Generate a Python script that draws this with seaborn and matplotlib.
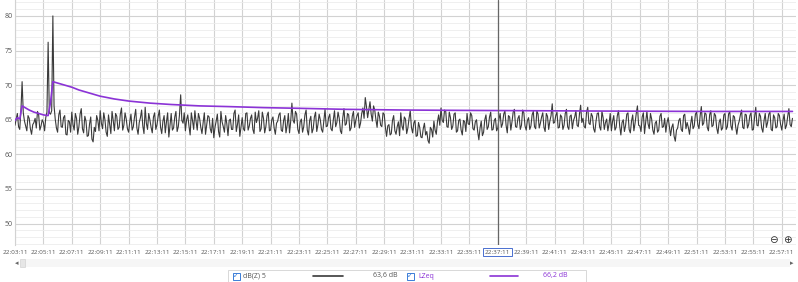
import numpy as np
import pandas as pd
import matplotlib
matplotlib.use("Agg")
import matplotlib.pyplot as plt
import matplotlib.dates as mdates
from matplotlib.lines import Line2D
from matplotlib.patches import Rectangle
import seaborn as sns

# ---------------- data ----------------
start_time = "2024-01-01 22:03:11"
sample_interval_s = 5

# dB(Z) 5 level read at every full 10 s (rows = 2-minute blocks)
dbz_at_10s = [
    64.2, 65.9, 63.6, 70.5, 64.8, 63.4, 65.2, 62.9, 64.6, 63.8, 65.7, 64.1,
    64.6, 65.3, 76.2, 65.8, 80.0, 65.1, 63.2, 66.4, 63.9, 65.6, 62.8, 64.7,
    66.1, 63.5, 65.2, 64.0, 66.6, 63.1, 64.8, 62.7, 65.4, 61.8, 63.3, 64.9,
    66.3, 63.7, 65.0, 62.6, 64.4, 66.2, 63.4, 65.5, 63.9, 66.7, 64.2, 65.1,
    63.2, 65.8, 64.0, 66.5, 62.9, 65.3, 64.1, 66.8, 63.6, 65.0, 63.1, 66.0,
    64.3, 66.4, 63.0, 65.6, 64.7, 62.5, 65.9, 63.8, 66.2, 64.0, 68.6, 64.5,
    63.4, 65.7, 62.8, 64.9, 66.3, 63.5, 65.2, 63.0, 66.0, 64.2, 65.4, 63.1,
    62.4, 64.8, 63.3, 66.2, 64.0, 65.6, 62.7, 65.1, 63.6, 66.4, 64.3, 62.6,
    65.3, 63.4, 66.0, 64.1, 65.7, 63.0, 64.6, 66.3, 63.7, 65.2, 64.0, 66.1,
    63.5, 65.4, 62.9, 64.8, 66.0, 63.3, 65.6, 64.2, 63.1, 67.4, 64.5, 65.8,
    63.0, 65.1, 64.0, 66.4, 62.8, 65.5, 63.7, 66.1, 64.3, 65.0, 63.2, 66.5,
    64.1, 65.8, 63.4, 66.3, 64.6, 65.2, 63.0, 66.6, 64.4, 65.7, 63.8, 66.2,
    64.9, 66.0, 64.5, 66.7, 68.2, 65.3, 67.6, 64.8, 66.4, 63.9, 65.5, 64.0,
    65.8, 62.6, 64.3, 63.0, 65.6, 62.9, 64.7, 66.0, 63.5, 65.1, 63.8, 66.3,
    63.1, 64.9, 62.7, 63.9, 62.4, 64.5, 63.3, 61.6, 63.6, 64.8, 62.9, 65.7,
    66.7, 64.6, 66.2, 63.9, 65.3, 64.1, 66.0, 63.4, 65.1, 62.8, 64.7, 65.9,
    64.3, 65.6, 63.5, 65.0, 62.1, 64.8, 63.2, 65.7, 64.0, 66.1, 63.6, 65.2,
    63.8, 65.9, 64.4, 66.3, 63.1, 65.4, 64.7, 66.5, 63.9, 65.6, 64.2, 66.0,
    63.5, 65.3, 64.1, 66.2, 63.7, 65.8, 64.5, 66.0, 63.3, 65.5, 64.8, 67.3,
    64.6, 66.1, 63.9, 65.4, 64.2, 66.5, 63.6, 65.7, 64.9, 66.3, 64.0, 67.1,
    65.2, 63.8, 66.8, 64.3, 65.5, 63.2, 65.9, 64.0, 66.2, 63.6, 65.1, 64.4,
    63.4, 65.6, 63.9, 66.3, 62.8, 65.0, 64.2, 66.0, 63.1, 65.7, 64.5, 67.0,
    64.1, 65.4, 63.0, 66.2, 63.7, 65.1, 62.9, 64.8, 63.5, 65.9, 64.0, 63.2,
    65.3, 62.7, 64.4, 61.9, 63.8, 65.2, 63.3, 65.8, 64.6, 62.9, 65.5, 64.1,
    66.1, 63.7, 66.9, 64.5, 65.8, 63.4, 66.3, 64.2, 65.6, 63.0, 65.1, 63.8,
    65.9, 64.0, 66.2, 63.5, 65.4, 62.9, 64.8, 66.4, 63.7, 65.7, 64.3, 66.0,
    63.6, 66.8, 64.1, 65.5, 63.2, 65.9, 64.6, 66.1, 63.4, 65.3, 64.0, 65.6,
    63.5, 65.8, 64.2, 66.6, 64.0,
]
# dB(Z) 5 level read 5 s after each of the points above
dbz_at_10s_plus5 = [
    65.1, 64.0, 66.3, 66.0, 64.1, 65.6, 63.7, 64.3, 65.2, 66.2, 63.5, 65.0,
    63.4, 66.1, 66.0, 66.3, 67.0, 63.8, 65.7, 64.0, 65.3, 62.9, 64.9, 63.2,
    64.3, 65.9, 62.9, 65.8, 63.7, 65.5, 62.6, 64.4, 62.2, 63.9, 65.6, 63.4,
    64.5, 66.0, 63.2, 65.7, 63.0, 64.9, 65.9, 63.6, 65.8, 63.5, 66.0, 63.7,
    64.7, 63.5, 65.4, 63.8, 64.6, 66.4, 63.0, 64.5, 65.9, 63.9, 65.4, 63.6,
    65.5, 63.9, 64.8, 63.1, 66.0, 64.2, 63.5, 65.4, 63.3, 65.7, 64.9, 66.0,
    65.0, 64.1, 66.0, 63.6, 64.8, 65.9, 63.9, 64.6, 62.9, 65.6, 63.7, 65.2,
    63.9, 65.8, 62.5, 64.7, 63.2, 64.4, 64.9, 63.6, 65.9, 63.3, 65.7, 64.0,
    63.7, 65.9, 63.5, 65.2, 63.6, 66.1, 65.2, 63.3, 66.1, 63.1, 65.6, 63.4,
    65.0, 63.8, 64.5, 65.7, 63.5, 64.9, 63.1, 65.9, 64.8, 64.9, 66.2, 63.6,
    64.7, 63.2, 65.7, 63.5, 64.9, 63.1, 65.4, 63.3, 65.8, 63.6, 64.8, 64.0,
    65.3, 63.7, 65.0, 64.0, 66.1, 63.4, 65.3, 64.2, 65.9, 63.4, 65.5, 63.9,
    65.6, 63.8, 65.9, 65.2, 66.9, 66.5, 65.8, 67.0, 65.0, 66.1, 64.2, 66.0,
    63.9, 64.1, 62.8, 64.9, 63.4, 64.0, 62.7, 64.1, 65.4, 63.0, 65.2, 63.9,
    64.5, 62.6, 64.6, 62.5, 63.7, 62.8, 62.0, 63.9, 62.5, 63.5, 64.7, 64.2,
    64.9, 66.4, 64.0, 66.1, 63.6, 65.8, 63.2, 64.9, 63.5, 64.9, 63.3, 64.4,
    66.0, 63.7, 64.7, 63.3, 63.8, 62.7, 65.0, 63.6, 65.4, 63.5, 64.9, 63.4,
    65.1, 63.9, 65.8, 64.2, 65.6, 63.5, 66.1, 64.0, 65.2, 63.6, 66.4, 64.1,
    64.9, 63.6, 65.7, 64.0, 66.3, 63.8, 65.4, 63.9, 65.9, 63.6, 65.6, 64.5,
    65.6, 63.8, 65.7, 63.6, 65.9, 64.0, 65.5, 63.7, 65.4, 64.2, 65.8, 64.6,
    64.0, 66.1, 64.5, 65.9, 63.7, 64.8, 66.0, 63.5, 65.3, 64.6, 63.4, 65.9,
    64.8, 63.5, 65.6, 64.1, 64.6, 63.3, 65.8, 63.6, 64.8, 63.4, 65.9, 64.2,
    63.3, 66.0, 64.7, 64.4, 65.9, 63.5, 64.5, 63.2, 65.5, 63.9, 65.2, 64.6,
    64.0, 63.9, 62.6, 63.5, 64.9, 63.6, 65.6, 63.7, 63.9, 64.4, 63.7, 65.8,
    64.3, 65.6, 64.2, 66.0, 63.9, 65.7, 64.0, 65.9, 63.8, 64.6, 63.5, 65.7,
    63.6, 65.8, 64.1, 65.6, 64.0, 64.2, 65.7, 63.9, 65.8, 63.8, 65.6, 63.5,
    65.4, 64.2, 65.9, 63.8, 64.9, 63.9, 65.8, 63.6, 65.7, 63.8, 65.9, 64.3,
    64.9, 63.7, 65.5, 64.3, 65.2,
]

# LZeq (running equivalent level), offsets in seconds from start
lzeq_offsets_s = [0, 10, 20, 30, 40, 60, 80, 100, 120, 140, 150, 160, 180, 210,
                  240, 270, 300, 360, 420, 480, 570, 660, 780, 900, 1050, 1200,
                  1400, 1650, 1900, 2200, 2500, 2900, 3285]
lzeq_values = [64.9, 65.3, 65.1, 67.0, 66.8, 66.4, 66.1, 65.9, 65.7, 65.6, 67.5,
               70.5, 70.3, 70.0, 69.7, 69.3, 69.0, 68.4, 68.0, 67.7, 67.4, 67.2,
               67.0, 66.9, 66.75, 66.65, 66.5, 66.4, 66.35, 66.3, 66.25, 66.2, 66.2]

y_ticks = [50, 55, 60, 65, 70, 75, 80]
x_tick_step_min = 2
n_x_ticks = 28
cursor_time = "2024-01-01 22:37:11"
axis_end = "2024-01-01 22:58:11"

legend_dbz_name = "dB(Z) 5"
legend_dbz_value = "63,6 dB"
legend_lzeq_name = "LZeq"
legend_lzeq_value = "66,2 dB"

# ---------------- frames ----------------
dbz_values = [v for pair in zip(dbz_at_10s, dbz_at_10s_plus5) for v in pair]
t0 = pd.Timestamp(start_time)
df_dbz = pd.DataFrame({
    "time": t0 + pd.to_timedelta(np.arange(len(dbz_values)) * sample_interval_s, unit="s"),
    "level": dbz_values,
})
df_lzeq = pd.DataFrame({
    "time": t0 + pd.to_timedelta(lzeq_offsets_s, unit="s"),
    "level": lzeq_values,
})

# ---------------- style ----------------
sns.set_style("white")
plt.rcParams["font.family"] = ["Open Sans", "DejaVu Sans"]

W, H = 798, 282
fig = plt.figure(figsize=(W / 100, H / 100), dpi=100)
ax = fig.add_axes([15 / W, 1 - 245 / H, 781 / W, 245 / H])

BLACK = "#3a3a3a"
PURPLE = "#8b33d6"

sns.lineplot(data=df_dbz, x="time", y="level", ax=ax, color=BLACK, lw=0.8, zorder=3)
sns.lineplot(data=df_lzeq, x="time", y="level", ax=ax, color=PURPLE, lw=1.2, zorder=4)

ax.set_xlim(t0, pd.Timestamp(axis_end))
ax.set_ylim(46.9, 82.3)

xt = [t0 + pd.Timedelta(minutes=x_tick_step_min * k) for k in range(n_x_ticks)]
ax.set_xticks(xt)
ax.xaxis.set_major_formatter(mdates.DateFormatter("%H:%M:%S"))
ax.set_yticks(y_ticks)
ax.set_yticks(np.arange(47, 83, 1), minor=True)

ax.grid(which="major", color="#d2d2d2", lw=0.8, zorder=0)
ax.grid(which="minor", axis="y", color="#ececec", lw=0.6, zorder=0)
ax.set_axisbelow(True)

ax.tick_params(axis="x", which="both", length=0, pad=3.5, labelsize=4.6, labelcolor="#555555")
ax.tick_params(axis="y", which="both", length=0, pad=1.5, labelsize=5, labelcolor="#555555")
ax.set_xlabel("")
ax.set_ylabel("")
for s in ["top", "right", "bottom"]:
    ax.spines[s].set_visible(False)
ax.spines["left"].set_color("#d2d2d2")
ax.spines["left"].set_linewidth(0.8)

# cursor
ct = pd.Timestamp(cursor_time)
ax.axvline(ct, color="#666666", lw=0.9, zorder=5)
fig.canvas.draw()
for lab, tv in zip(ax.get_xticklabels(), xt):
    if tv == ct:
        lab.set_bbox(dict(boxstyle="square,pad=0.25", fc="white", ec="#4a6fd0", lw=0.7))

# zoom icons
fig.text(773 / W, 1 - 240 / H, "\u2296", fontsize=7.5, color="#333333",
         ha="center", va="center", family="DejaVu Sans")
fig.text(787 / W, 1 - 240 / H, "\u2295", fontsize=7.5, color="#333333",
         ha="center", va="center", family="DejaVu Sans")

# scrollbar hints
fig.patches.append(Rectangle((24 / W, 1 - 267 / H), 766 / W, 8 / H,
                             transform=fig.transFigure, fc="#f6f6f6", ec="none"))
fig.text(17 / W, 1 - 263 / H, "\u25c2", fontsize=5, color="#666666", ha="center", va="center",
         family="DejaVu Sans")
fig.patches.append(Rectangle((20 / W, 1 - 267 / H), 5 / W, 8 / H,
                             transform=fig.transFigure, fc="#e6e6e6", ec="#cccccc", lw=0.4))
fig.text(792 / W, 1 - 263 / H, "\u25b8", fontsize=5, color="#666666", ha="center", va="center",
         family="DejaVu Sans")

# legend strip
fig.patches.append(Rectangle((228 / W, -0.02), (586 - 228) / W, (1 - 270 / H) + 0.02,
                             transform=fig.transFigure, fc="white", ec="#d8d8d8", lw=0.7))
ly = 1 - 276 / H
for cx in (236, 410):
    fig.patches.append(Rectangle(((cx - 3.5) / W, ly - 3.5 / H), 7 / W, 7 / H,
                                 transform=fig.transFigure, fc="white", ec="#3b7dd8", lw=0.7))
    fig.text(cx / W, ly, "\u2713", fontsize=5, color="#3b7dd8", ha="center", va="center",
             family="DejaVu Sans")
fig.text(243 / W, ly, legend_dbz_name, fontsize=5, color="#555555", va="center")
fig.lines.append(Line2D([313 / W, 343 / W], [ly, ly], transform=fig.transFigure, color=BLACK, lw=1.2))
fig.text(373 / W, ly, legend_dbz_value, fontsize=5, color="#555555", va="center")
fig.text(418 / W, ly, legend_lzeq_name, fontsize=5, color=PURPLE, va="center")
fig.lines.append(Line2D([490 / W, 518 / W], [ly, ly], transform=fig.transFigure, color=PURPLE, lw=1.2))
fig.text(543 / W, ly, legend_lzeq_value, fontsize=5, color=PURPLE, va="center")

fig.savefig("out.png", dpi=100, facecolor="white")
